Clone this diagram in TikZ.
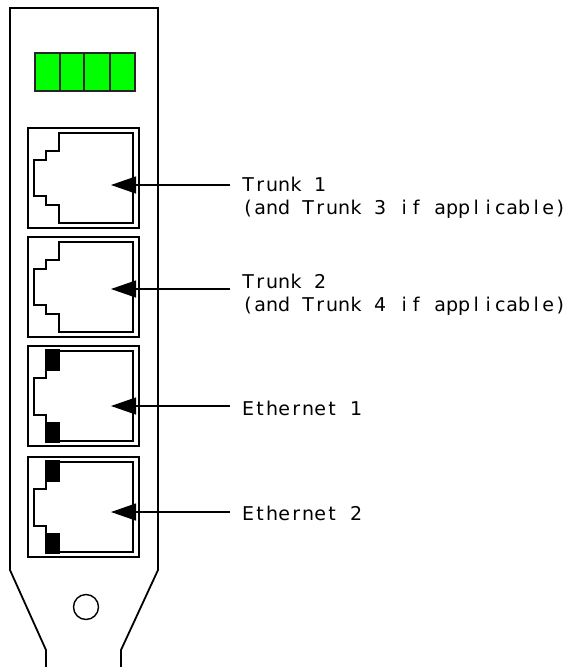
\documentclass[tikz,border=0pt]{standalone}
\usepackage{fontspec}
\setmainfont{DejaVu Sans}
\usetikzlibrary{arrows.meta}
\ExplSyntaxOn
\NewDocumentCommand \pitched { m }
  { \str_map_inline:nn { #1 } { \makebox[12pt][c]{##1} } }
\ExplSyntaxOff
\begin{document}
\begin{tikzpicture}[x=1pt,y=-1pt,
  plate/.style={draw=black,line width=1.8pt,line join=miter},
  jackbox/.style={draw=black,line width=1.6pt},
  led/.style={draw=black!85,line width=1.5pt,fill=green},
  pad/.style={fill=black},
  pointer/.style={draw=black,line width=1.3pt,-{Triangle[length=25pt,width=17pt]}},
  lbl/.style={anchor=base west,inner sep=0pt,font=\fontsize{19}{24}\selectfont}]
\useasboundingbox (0,0) rectangle (564,667);
% bracket plate
\draw[plate] (46,667) -- (46,650) -- (10,570) -- (10,8) -- (158,8) -- (158,570) -- (121,650) -- (121,667);
\draw[line width=1.4pt] (86,607) circle (12.5);
% LEDs
\draw[led] (35,53) rectangle (135,91);
\draw[line width=1.5pt,black!85] (60,53) -- (60,91) (84,53) -- (84,91) (110,53) -- (110,91);
% trunk jacks
\foreach \t in {128,237}{
  \draw[jackbox] (28,\t) rectangle (139,\t+100);
  \draw[jackbox] (59,\t+5) -- (133,\t+5) -- (133,\t+95) -- (59,\t+95) -- (59,\t+77) -- (46,\t+77) -- (46,\t+68) -- (34,\t+68) -- (34,\t+32) -- (46,\t+32) -- (46,\t+23) -- (59,\t+23) -- cycle;
}
% ethernet jacks
\foreach \t in {346,457}{
  \draw[jackbox] (28,\t) rectangle (139,\t+100);
  \draw[jackbox] (60,\t+5) -- (133,\t+5) -- (133,\t+95) -- (60,\t+95);
  \draw[jackbox] (46,\t+25) -- (46,\t+32) -- (34,\t+32) -- (34,\t+69) -- (46,\t+69) -- (46,\t+76);
  \fill[pad] (45,\t+3) rectangle (60,\t+25);
  \fill[pad] (45,\t+76) rectangle (60,\t+97);
}
% labels
\node[lbl] (t1) at (242,191) {\pitched{Trunk 1}};
\node[lbl] (t1b) at (242,214.5) {\pitched{(and Trunk 3 if applicable)}};
\node[lbl] (t2) at (242,288) {\pitched{Trunk 2}};
\node[lbl] (t2b) at (242,311.5) {\pitched{(and Trunk 4 if applicable)}};
\node[lbl] (e1) at (242,415) {\pitched{Ethernet 1}};
\node[lbl] (e2) at (242,520) {\pitched{Ethernet 2}};
% pointers
\coordinate (p1s) at (230,185); \coordinate (p1e) at (111,185);
\coordinate (p2s) at (230,289); \coordinate (p2e) at (111,289);
\coordinate (p3s) at (230,406); \coordinate (p3e) at (111,406);
\coordinate (p4s) at (230,512); \coordinate (p4e) at (111,512);
\draw[pointer] (p1s) -- (p1e);
\draw[pointer] (p2s) -- (p2e);
\draw[pointer] (p3s) -- (p3e);
\draw[pointer] (p4s) -- (p4e);
\end{tikzpicture}
\end{document}
